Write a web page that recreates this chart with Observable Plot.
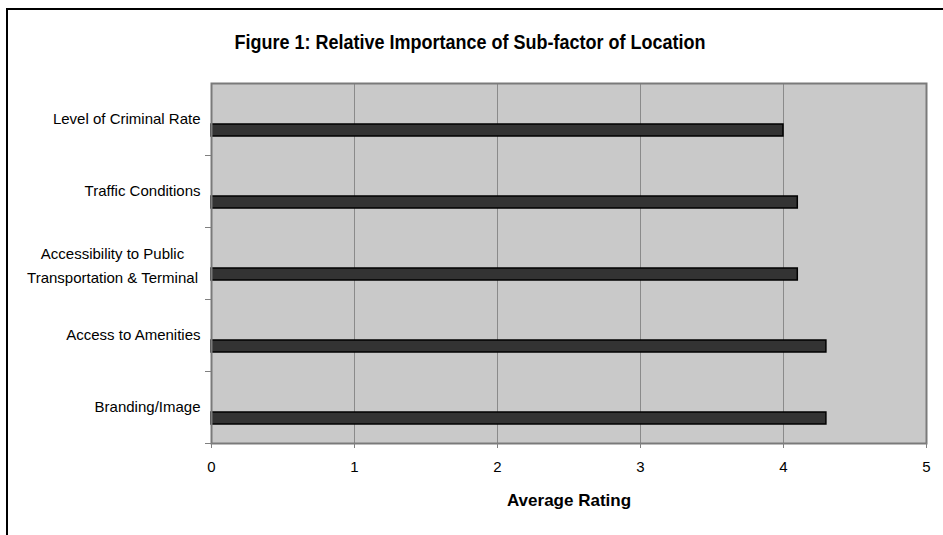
<!DOCTYPE html>
<html>
<head>
<meta charset="utf-8">
<script src="https://cdn.jsdelivr.net/npm/d3@7"></script>
<script src="https://cdn.jsdelivr.net/npm/@observablehq/plot@0.6"></script>
<style>
  html, body { margin: 0; padding: 0; background: #fff; }
  #wrap { position: relative; width: 943px; height: 535px; overflow: hidden; font-family: "Liberation Sans", Arial, sans-serif; }
  #border { position: absolute; left: 6px; top: 8px; width: 960px; height: 560px; border: 2px solid #000; box-sizing: border-box; }
  #title { position: absolute; left: 0; width: 940px; top: 32px; text-align: center; font-weight: bold; font-size: 18px; color: #000; transform: scaleY(1.1); }
  #chart { position: absolute; left: 0; top: 0; }
</style>
</head>
<body>
<div id="wrap">
  <div id="border"></div>
  <div id="title">Figure 1: Relative Importance of Sub-factor of Location</div>
  <div id="chart"></div>
</div>
<script>
const categories = [
  "Level of Criminal Rate",
  "Traffic Conditions",
  "Accessibility to Public\nTransportation & Terminal",
  "Access to Amenities",
  "Branding/Image"
];
const ratings = [4.0, 4.1, 4.1, 4.3, 4.3];
const xTicks = [0, 1, 2, 3, 4, 5];
const xLabel = "Average Rating";

const data = categories.map((c, i) => ({category: c, rating: ratings[i]}));
const multi = categories.filter(c => c.includes("\n"));

const chart = Plot.plot({
  width: 943,
  height: 535,
  marginTop: 83,
  marginBottom: 92,
  marginLeft: 211,
  marginRight: 17,
  style: {fontFamily: '"Liberation Sans", Arial, sans-serif', fontSize: "15px", color: "#000", background: "transparent"},
  x: {domain: [0, 5], ticks: xTicks},
  y: {domain: categories, padding: 0, round: false},
  marks: [
    Plot.frame({fill: "#c9c9c9", stroke: null}),
    Plot.gridX(xTicks.filter(t => t > 0 && t < 5), {stroke: "#8a8a8a", strokeOpacity: 1, strokeWidth: 1}),
    Plot.barX(data, {x: "rating", y: "category", fill: "#333333", stroke: "#000", strokeWidth: 1.5, insetTop: 41, insetBottom: 19}),
    Plot.frame({stroke: "#7a7a7a", strokeWidth: 2}),
    Plot.axisX({ticks: xTicks, tickSize: 5, tickPadding: 13, stroke: "#808080", label: null, tickFormat: d3.format("d")}),
    Plot.axisY({tickSize: 6, text: null, dy: 36, stroke: "#808080", label: null}),
    Plot.axisY({tickSize: 0, tickPadding: 11, label: null, tickFormat: d => d.includes("\n") ? "" : d}),
    Plot.text(multi, {y: d => d, frameAnchor: "left", textAnchor: "middle", dx: -99, lineHeight: 1.55}),
    Plot.text([xLabel], {frameAnchor: "bottom", dy: 62, fontWeight: "bold", fontSize: 17})
  ]
});
document.getElementById("chart").appendChild(chart);
</script>
</body>
</html>
